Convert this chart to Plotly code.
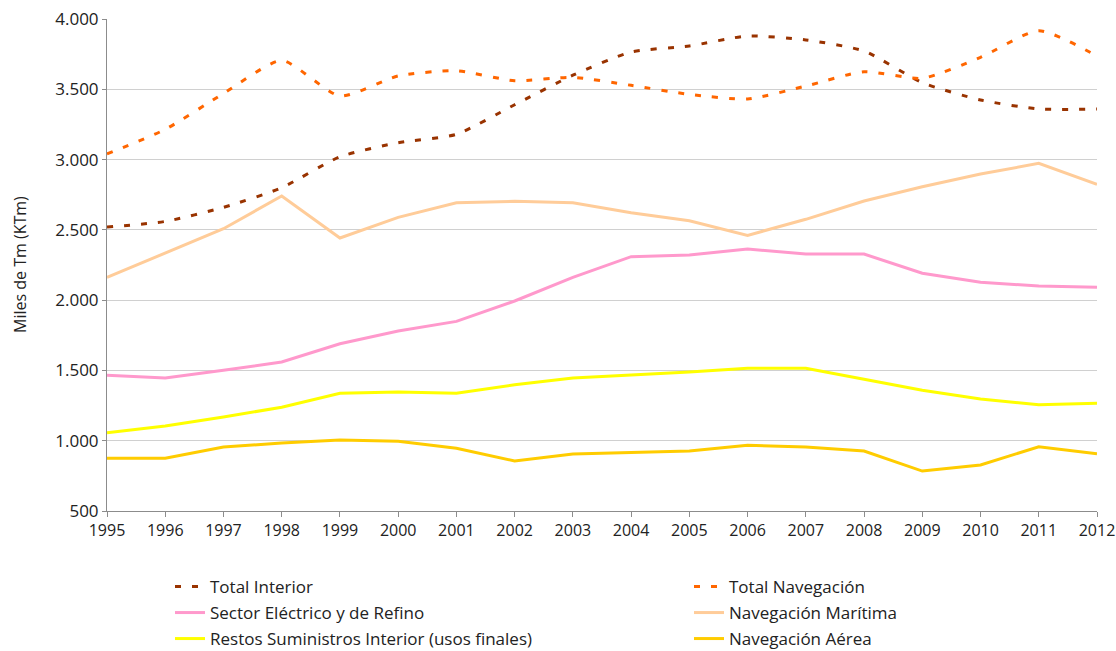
import plotly.graph_objects as go

years = list(range(1995, 2013))
total_interior = [2520, 2560, 2660, 2800, 3020, 3120, 3180, 3390, 3600, 3765, 3808, 3879, 3851, 3772, 3547, 3424, 3360, 3360]
total_navegacion = [3040, 3215, 3470, 3705, 3452, 3595, 3632, 3561, 3585, 3528, 3464, 3431, 3523, 3625, 3578, 3727, 3917, 3737]
sector_electrico = [1465, 1446, 1501, 1560, 1690, 1780, 1849, 1994, 2162, 2309, 2321, 2364, 2328, 2328, 2191, 2127, 2101, 2091]
nav_maritima = [2162, 2333, 2508, 2741, 2442, 2589, 2693, 2703, 2693, 2622, 2565, 2461, 2575, 2705, 2807, 2897, 2973, 2824]
restos = [1057, 1105, 1169, 1238, 1337, 1347, 1337, 1398, 1446, 1465, 1489, 1515, 1515, 1437, 1359, 1297, 1256, 1266]
nav_aerea = [875, 875, 955, 984, 1005, 996, 946, 856, 905, 917, 927, 967, 955, 927, 784, 827, 957, 907]

series = [
    ("Total Interior", total_interior, "#993300", "6px,11px", "spline"),
    ("Total Navegación", total_navegacion, "#FF6600", "6px,11px", "spline"),
    ("Sector Eléctrico y de Refino", sector_electrico, "#FF99CC", "solid", "linear"),
    ("Navegación Marítima", nav_maritima, "#FFCC99", "solid", "linear"),
    ("Restos Suministros Interior (usos finales)", restos, "#FFFF00", "solid", "linear"),
    ("Navegación Aérea", nav_aerea, "#FFCC00", "solid", "linear"),
]

W, H = 1116, 651
legend_pos = [(170, 587), (689, 587), (170, 613), (689, 613), (170, 639), (689, 639)]

fig = go.Figure()
layout_legends = {}
for i, (name, vals, color, dash, shape) in enumerate(series):
    key = "legend" if i == 0 else f"legend{i+1}"
    fig.add_trace(go.Scatter(
        x=years, y=vals, name=name, mode="lines",
        line=dict(color=color, width=3, dash=dash, shape=shape, smoothing=0.6),
        legend=key,
    ))
    px, py = legend_pos[i]
    layout_legends[key] = dict(
        xref="container", yref="container",
        x=px / W, xanchor="left", y=1 - py / H, yanchor="middle",
        bgcolor="rgba(0,0,0,0)", borderwidth=0,
        font=dict(size=17, color="#222222"),
    )

fig.update_layout(
    width=W, height=H,
    margin=dict(l=107, r=19, t=19, b=140, autoexpand=False),
    paper_bgcolor="white", plot_bgcolor="white",
    separators=",.",
    font=dict(family="Open Sans, Noto Sans, sans-serif", size=17, color="#222222"),
    showlegend=True,
    **layout_legends,
)
fig.add_annotation(
    text="Miles de Tm (KTm)", textangle=-90, showarrow=False,
    xref="paper", yref="paper", x=(20 - 107) / 990, y=0.5,
    xanchor="center", yanchor="middle", font=dict(size=16, color="#222222"),
)
fig.update_xaxes(
    range=[1995, 2012], tickmode="array", tickvals=years, ticktext=[str(y) for y in years],
    showgrid=False, showline=True, linecolor="#8c8c8c", linewidth=1,
    ticks="outside", ticklen=5, tickcolor="#8c8c8c", zeroline=False,
    tickfont=dict(size=16), automargin=False, ticklabeloverflow="allow",
)
fig.update_yaxes(
    range=[500, 4000], tickmode="array", tickvals=list(range(500, 4001, 500)),
    tickformat=",d", showgrid=True, gridcolor="#d0d0d0", gridwidth=1,
    showline=True, linecolor="#8c8c8c", linewidth=1,
    ticks="outside", ticklen=4, tickcolor="#8c8c8c", zeroline=False,
    tickfont=dict(size=17), automargin=False, ticklabeloverflow="allow",
)

fig.write_html(
    "out.html",
    config={"displayModeBar": False},
    post_script="document.body.style.margin='0';document.body.style.overflow='hidden';",
)
